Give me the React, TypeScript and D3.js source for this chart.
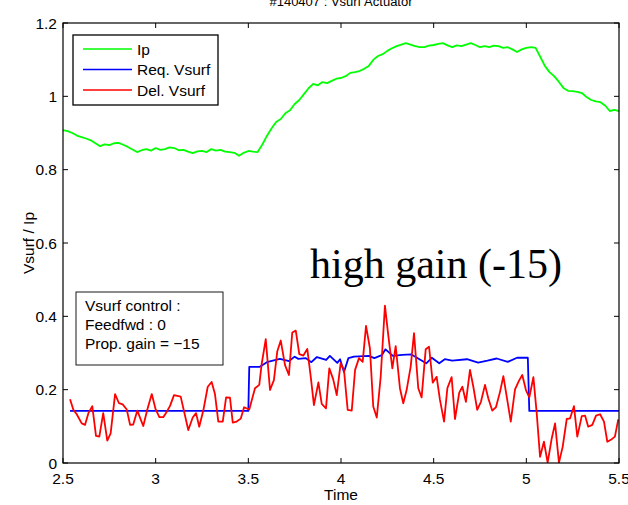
import React from "react";
import * as d3 from "d3";

const ipT: number[] = d3.range(0, 121).map((i) => 2.5 + i * 0.025);
const ipV: number[] = [
  0.908, 0.905, 0.9, 0.893, 0.889, 0.885, 0.88, 0.872, 0.864, 0.869,
  0.867, 0.872, 0.873, 0.868, 0.862, 0.855, 0.848, 0.853, 0.856, 0.852,
  0.859, 0.854, 0.856, 0.861, 0.859, 0.853, 0.854, 0.849, 0.845, 0.85,
  0.851, 0.848, 0.856, 0.852, 0.854, 0.849, 0.848, 0.846, 0.838, 0.846,
  0.851, 0.849, 0.848, 0.868, 0.892, 0.912, 0.93, 0.938, 0.954, 0.962,
  0.979, 0.99, 1.006, 1.022, 1.034, 1.03, 1.039, 1.036, 1.042, 1.048,
  1.05, 1.055, 1.064, 1.066, 1.069, 1.075, 1.083, 1.1, 1.11, 1.115,
  1.124, 1.131, 1.137, 1.141, 1.145, 1.141, 1.137, 1.134, 1.134, 1.138,
  1.14, 1.143, 1.145, 1.139, 1.134, 1.139, 1.137, 1.141, 1.145, 1.14,
  1.134, 1.137, 1.134, 1.138, 1.137, 1.132, 1.134, 1.128, 1.121, 1.128,
  1.132, 1.134, 1.132, 1.108, 1.083, 1.066, 1.055, 1.04, 1.023, 1.015,
  1.014, 1.012, 1.009, 0.998, 0.99, 0.986, 0.984, 0.975, 0.96, 0.963,
  0.96,
];

const reqT: number[] = [
  2.538, 3.5, 3.505, 3.56, 3.6, 3.67, 3.72, 3.75, 3.77, 3.81, 3.84, 3.87,
  3.92, 3.94, 3.98, 3.995, 4.016, 4.04, 4.07, 4.15, 4.18, 4.22, 4.24, 4.28,
  4.33, 4.38, 4.43, 4.46, 4.49, 4.53, 4.56, 4.6, 4.68, 4.74, 4.79, 4.84,
  4.9, 4.95, 5.0, 5.008, 5.016, 5.5,
];
const reqV: number[] = [
  0.142, 0.142, 0.262, 0.262, 0.275, 0.284, 0.278, 0.29, 0.284, 0.286, 0.275, 0.289,
  0.281, 0.292, 0.273, 0.283, 0.248, 0.286, 0.29, 0.292, 0.286, 0.294, 0.31, 0.292,
  0.295, 0.296, 0.281, 0.272, 0.287, 0.272, 0.283, 0.279, 0.283, 0.274, 0.279, 0.285,
  0.276, 0.287, 0.287, 0.287, 0.142, 0.142,
];

const delT: number[] = [
  2.538, 2.556, 2.574, 2.601, 2.619, 2.637, 2.658, 2.678, 2.696, 2.717,
  2.739, 2.757, 2.781, 2.802, 2.822, 2.844, 2.862, 2.879, 2.901, 2.933,
  2.955, 2.979, 3.0, 3.02, 3.041, 3.06, 3.077, 3.099, 3.135, 3.176,
  3.2, 3.218, 3.235, 3.257, 3.281, 3.302, 3.32, 3.338, 3.362, 3.38,
  3.401, 3.416, 3.437, 3.459, 3.477, 3.505, 3.536, 3.559, 3.572, 3.594,
  3.617, 3.638, 3.656, 3.675, 3.698, 3.719, 3.737, 3.756, 3.775, 3.797,
  3.818, 3.837, 3.854, 3.878, 3.896, 3.919, 3.937, 3.958, 3.977, 3.998,
  4.016, 4.036, 4.058, 4.076, 4.097, 4.117, 4.135, 4.156, 4.174, 4.193,
  4.214, 4.237, 4.255, 4.277, 4.295, 4.318, 4.336, 4.354, 4.376, 4.394,
  4.417, 4.435, 4.457, 4.475, 4.495, 4.516, 4.534, 4.556, 4.574, 4.597,
  4.615, 4.638, 4.655, 4.674, 4.696, 4.714, 4.735, 4.755, 4.777, 4.795,
  4.816, 4.836, 4.858, 4.876, 4.897, 4.916, 4.939, 4.96, 4.978, 4.998,
  5.016, 5.038, 5.056, 5.074, 5.095, 5.115, 5.137, 5.155, 5.176, 5.196,
  5.218, 5.236, 5.257, 5.275, 5.299, 5.317, 5.334, 5.356, 5.376, 5.398,
  5.419, 5.437, 5.461, 5.478, 5.496,
];
const delV: number[] = [
  0.174, 0.145, 0.133, 0.108, 0.104, 0.136, 0.155, 0.074, 0.072, 0.136,
  0.061, 0.081, 0.188, 0.163, 0.16, 0.146, 0.104, 0.105, 0.143, 0.101,
  0.146, 0.188, 0.146, 0.125, 0.125, 0.14, 0.155, 0.185, 0.181, 0.09,
  0.124, 0.136, 0.099, 0.143, 0.208, 0.221, 0.188, 0.113, 0.113, 0.179,
  0.178, 0.11, 0.113, 0.121, 0.152, 0.146, 0.204, 0.213, 0.27, 0.338,
  0.199, 0.226, 0.304, 0.334, 0.267, 0.24, 0.356, 0.361, 0.297, 0.293,
  0.311, 0.234, 0.158, 0.22, 0.161, 0.149, 0.258, 0.228, 0.185, 0.272,
  0.254, 0.145, 0.143, 0.254, 0.286, 0.276, 0.374, 0.313, 0.154, 0.124,
  0.234, 0.429, 0.349, 0.258, 0.319, 0.204, 0.163, 0.199, 0.263, 0.354,
  0.204, 0.179, 0.31, 0.317, 0.219, 0.235, 0.172, 0.113, 0.204, 0.234,
  0.12, 0.192, 0.208, 0.167, 0.254, 0.208, 0.145, 0.167, 0.213, 0.176,
  0.143, 0.152, 0.194, 0.237, 0.172, 0.113, 0.201, 0.224, 0.24, 0.199,
  0.179, 0.234, 0.136, 0.017, 0.058, 0.001, 0.067, 0.108, 0.001, 0.044,
  0.12, 0.122, 0.155, 0.072, 0.128, 0.129, 0.099, 0.104, 0.129, 0.133,
  0.113, 0.058, 0.065, 0.072, 0.119,
];

const xTicks: number[] = [2.5, 3, 3.5, 4, 4.5, 5, 5.5];
const yTicks: number[] = [0, 0.2, 0.4, 0.6, 0.8, 1, 1.2];
const legendLabels: string[] = ["Ip", "Req. Vsurf", "Del. Vsurf"];
const legendColors: string[] = ["#00ff00", "#0000ff", "#ff0000"];
const noteLines: string[] = ["Vsurf control :", "Feedfwd : 0", "Prop. gain = \u221215"];
const titleText = "#140407 : Vsurf Actuator";
const annotation = "high gain (-15)";

const W = 628;
const H = 505;
const M = { left: 63, right: 619, top: 23, bottom: 463 };
const FONT = "'Liberation Sans', Arial, Helvetica, sans-serif";

export default function App() {
  const x = d3.scaleLinear().domain([2.5, 5.5]).range([M.left, M.right]);
  const y = d3.scaleLinear().domain([0, 1.2]).range([M.bottom, M.top]);
  const line = d3
    .line<[number, number]>()
    .x((d) => x(d[0]))
    .y((d) => y(d[1]));
  const series = [
    { pts: ipT.map((t, i) => [t, ipV[i]] as [number, number]), color: legendColors[0] },
    { pts: reqT.map((t, i) => [t, reqV[i]] as [number, number]), color: legendColors[1] },
    { pts: delT.map((t, i) => [t, delV[i]] as [number, number]), color: legendColors[2] },
  ];
  const tl = 5;
  const fmt = (v: number) => String(v);
  return (
    <div style={{ position: "absolute", left: 0, top: 0 }}>
      <svg width={W} height={H} style={{ display: "block", background: "#fff" }} fontFamily={FONT}>
        <rect x={0} y={0} width={W} height={H} fill="#fff" />
        <text x={(M.left + M.right) / 2} y={6} textAnchor="middle" fontSize={13} fill="#000">
          {titleText}
        </text>
        <defs>
          <clipPath id="plotclip">
            <rect x={M.left} y={M.top} width={M.right - M.left} height={M.bottom - M.top} />
          </clipPath>
        </defs>
        <g clipPath="url(#plotclip)">
          {series.map((s, i) => (
            <path key={i} d={line(s.pts) || ""} fill="none" stroke={s.color} strokeWidth={1.8} strokeLinejoin="round" />
          ))}
        </g>
        <rect x={M.left} y={M.top} width={M.right - M.left} height={M.bottom - M.top} fill="none" stroke="#000" strokeWidth={1.2} />
        {xTicks.map((t) => (
          <g key={"x" + t}>
            <line x1={x(t)} x2={x(t)} y1={M.bottom} y2={M.bottom - tl} stroke="#000" />
            <line x1={x(t)} x2={x(t)} y1={M.top} y2={M.top + tl} stroke="#000" />
            <text x={x(t)} y={484} textAnchor="middle" fontSize={15.5} fill="#000">
              {fmt(t)}
            </text>
          </g>
        ))}
        {yTicks.map((t) => (
          <g key={"y" + t}>
            <line x1={M.left} x2={M.left + tl} y1={y(t)} y2={y(t)} stroke="#000" />
            <line x1={M.right} x2={M.right - tl} y1={y(t)} y2={y(t)} stroke="#000" />
            <text x={57} y={y(t) + 5.5} textAnchor="end" fontSize={15.5} fill="#000">
              {fmt(t)}
            </text>
          </g>
        ))}
        <text x={(M.left + M.right) / 2} y={500} textAnchor="middle" fontSize={15.5} fill="#000">
          Time
        </text>
        <text
          transform={`translate(34, ${(M.top + M.bottom) / 2}) rotate(-90)`}
          textAnchor="middle"
          fontSize={15.5}
          fill="#000"
        >
          Vsurf / Ip
        </text>
        <rect x={73} y={35} width={145} height={70} fill="#fff" stroke="#000" strokeWidth={1.3} />
        {legendLabels.map((lab, i) => (
          <g key={lab}>
            <line x1={83} x2={132} y1={49 + i * 20.5} y2={49 + i * 20.5} stroke={legendColors[i]} strokeWidth={1.6} />
            <text x={137} y={49 + i * 20.5 + 5.5} fontSize={15.5} fill="#000">
              {lab}
            </text>
          </g>
        ))}
        <rect x={76} y={292} width={147} height={73} fill="#fff" stroke="#000" strokeWidth={0.9} />
        {noteLines.map((l, i) => (
          <text key={i} x={85} y={311 + i * 19} fontSize={15.5} fill="#000">
            {l}
          </text>
        ))}
        <text x={310} y={278} fontSize={42} fontFamily="'Liberation Serif', 'Times New Roman', serif" fill="#000">
          {annotation}
        </text>
      </svg>
    </div>
  );
}
